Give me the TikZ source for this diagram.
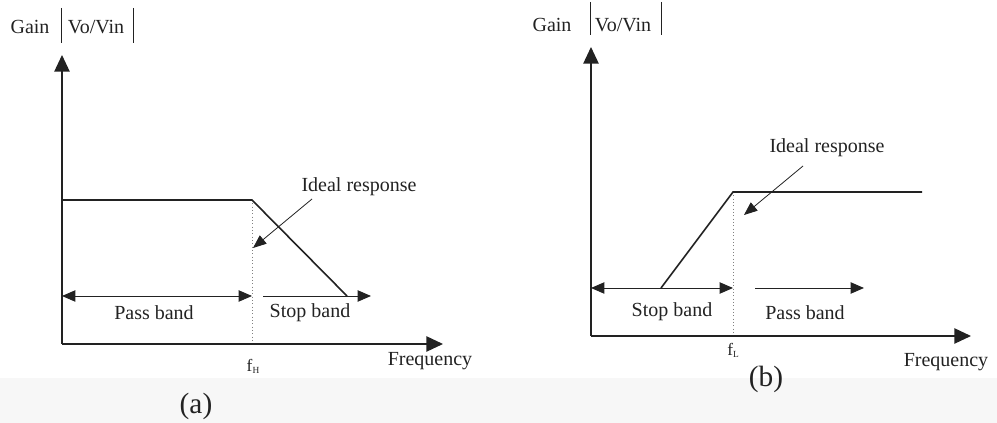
\documentclass[tikz,border=0pt]{standalone}
\usepackage{fontspec}
\setmainfont{Liberation Serif}
\usetikzlibrary{arrows.meta,calc}
\definecolor{ink}{HTML}{222222}
\begin{document}
\begin{tikzpicture}[x=0.75pt,y=-0.75pt,
  axis/.style={line width=1.1pt, draw=ink, -{Triangle[length=12.5pt,width=11.5pt]}},
  resp/.style={line width=1.2pt, draw=ink},
  twoway/.style={line width=0.7pt, draw=ink,
    {Triangle[length=10pt,width=8.5pt]}-{Triangle[length=10pt,width=8.5pt]}},
  oneway/.style={line width=0.7pt, draw=ink, -{Triangle[length=10pt,width=8.5pt]}},
  pointer/.style={line width=0.6pt, draw=ink, -{Triangle[length=10pt,width=8pt]}},
  guide/.style={dotted, line width=0.5pt, draw=gray},
  lbl/.style={font=\fontsize{15}{18}\selectfont, text=ink, inner sep=0pt},
  sub/.style={font=\fontsize{13}{15}\selectfont, text=ink, inner sep=0pt},
  figlabel/.style={font=\fontsize{22}{26}\selectfont, text=ink, inner sep=0pt},
  bar/.style={line width=0.6pt, draw=ink}
]
\useasboundingbox (0,0) rectangle (997,423);
\fill[black!3] (0,378) rectangle (997,423);

% ---------- (a) low-pass ----------
\coordinate (Oa) at (62,344);
\coordinate (Ya) at (62,55);
\coordinate (Xa) at (443,344);
\coordinate (A1) at (62,200);
\coordinate (A2) at (252,200);
\coordinate (A3) at (347,296);
\coordinate (Fa) at (252,344);
\coordinate (P1) at (62,296);
\coordinate (P2) at (252,296);
\coordinate (S1) at (263,296);
\coordinate (S2) at (371,296);
\coordinate (I1) at (312,199);
\coordinate (I2) at (253,248);

\node[lbl] (gaina) at (30,27) {Gain};
\node[lbl] (voa) at (96,27) {Vo/Vin};
\draw[bar] ($(voa.center)+(-35,-19)$) -- ++(0,35);
\draw[bar] ($(voa.center)+(37,-19)$) -- ++(0,35);

\draw[guide] (A2) -- (Fa);
\draw[axis] (Oa) -- (Ya);
\draw[axis] (Oa) -- (Xa);
\draw[resp] (A1) -- (A2) -- (A3);
\draw[twoway] (P1) -- (P2);
\draw[oneway] (S1) -- (S2);
\draw[pointer] (I1) -- (I2);

\node[lbl] (ideala) at (359,187) {Ideal response};
\node[lbl] (passa) at (154,313) {Pass band};
\node[lbl] (stopa) at (310,313) {Stop band};
\node[sub] (fh) at (253,366) {f\raisebox{-0.25ex}{\fontsize{7}{8}\selectfont H}};
\node[lbl] (freqa) at (430,361) {Frequency};
\node[figlabel] (capa) at (196,406) {(a)};

% ---------- (b) high-pass ----------
\coordinate (Ob) at (591,336);
\coordinate (Yb) at (591,47);
\coordinate (Xb) at (971,336);
\coordinate (B1) at (661,288);
\coordinate (B2) at (733,192);
\coordinate (B3) at (922,192);
\coordinate (Fb) at (733,336);
\coordinate (Q1) at (591,288);
\coordinate (Q2) at (733,288);
\coordinate (R1) at (755,288);
\coordinate (R2) at (864,288);
\coordinate (J1) at (803,166);
\coordinate (J2) at (744,215);

\node[lbl] (gainb) at (552,25) {Gain};
\node[lbl] (vob) at (623,25) {Vo/Vin};
\draw[bar] ($(vob.center)+(-33,-23)$) -- ++(0,33);
\draw[bar] ($(vob.center)+(38,-23)$) -- ++(0,33);

\draw[guide] (B2) -- (Fb);
\draw[axis] (Ob) -- (Yb);
\draw[axis] (Ob) -- (Xb);
\draw[resp] (B1) -- (B2) -- (B3);
\draw[twoway] (Q1) -- (Q2);
\draw[oneway] (R1) -- (R2);
\draw[pointer] (J1) -- (J2);

\node[lbl] (idealb) at (827,148) {Ideal response};
\node[lbl] (stopb) at (672,312) {Stop band};
\node[lbl] (passb) at (805,313) {Pass band};
\node[sub] (fl) at (733,350) {f\raisebox{-0.25ex}{\fontsize{7}{8}\selectfont L}};
\node[lbl] (freqb) at (946,362) {Frequency};
\node[figlabel] (capb) at (766,379) {(b)};
\end{tikzpicture}
\end{document}
